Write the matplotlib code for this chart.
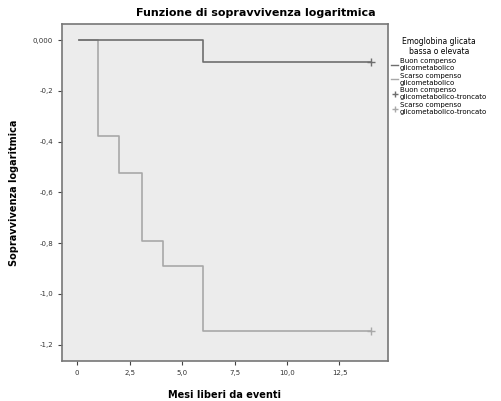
import matplotlib.pyplot as plt
from matplotlib.lines import Line2D

# step curves (log survival)
buon_t = [0.1, 6.0, 14.0]
buon_logs = [0.0, -0.087, -0.087]
scarso_t = [0.1, 1.0, 2.0, 3.1, 4.1, 6.0, 14.0]
scarso_logs = [0.0, -0.378, -0.525, -0.79, -0.89, -1.146, -1.146]

xticks = [0, 2.5, 5.0, 7.5, 10.0, 12.5]
xtick_labels = ['0', '2,5', '5,0', '7,5', '10,0', '12,5']
yticks = [0.0, -0.2, -0.4, -0.6, -0.8, -1.0, -1.2]
ytick_labels = ['0,000', '-0,2', '-0,4', '-0,6', '-0,8', '-1,0', '-1,2']

legend_labels = ['Buon compenso\nglicometabolico',
                 'Scarso compenso\nglicometabolico',
                 'Buon compenso\nglicometabolico-troncato',
                 'Scarso compenso\nglicometabolico-troncato']

dark = '#6e6e6e'
light = '#a8a8a8'

fig = plt.figure(figsize=(5.01, 4.01), dpi=100)
ax = fig.add_axes([0.124, 0.0998, 0.650, 0.840])
ax.set_facecolor('#ececec')

ax.step(scarso_t, scarso_logs, where='post', color=light, lw=1.2)
ax.step(buon_t, buon_logs, where='post', color=dark, lw=1.2)
ax.plot(buon_t[-1], buon_logs[-1], marker='+', color=dark, ms=6, mew=1.0)
ax.plot(scarso_t[-1], scarso_logs[-1], marker='+', color=light, ms=6, mew=1.0)

ax.set_xlim(-0.71, 14.8)
ax.set_ylim(-1.264, 0.063)
ax.set_xticks(xticks)
ax.set_xticklabels(xtick_labels)
ax.set_yticks(yticks)
ax.set_yticklabels(ytick_labels)
ax.tick_params(labelsize=5, length=3, color='#444444', labelcolor='#333333')
for s in ax.spines.values():
    s.set_color('#777777')
    s.set_linewidth(1.2)

ax.set_xlabel('Mesi liberi da eventi', fontsize=7, fontweight='bold', labelpad=10)
ax.set_ylabel('Sopravvivenza logaritmica', fontsize=7, fontweight='bold', labelpad=10)
fig.text(0.51, 0.967, 'Funzione di sopravvivenza logaritmica',
         ha='center', va='center', fontsize=8, fontweight='bold')

handles = [Line2D([], [], color=dark, lw=1),
           Line2D([], [], color=light, lw=1),
           Line2D([], [], color=dark, lw=0, marker='+', ms=5),
           Line2D([], [], color=light, lw=0, marker='+', ms=5)]
leg = fig.legend(handles, legend_labels, title='Emoglobina glicata\nbassa o elevata',
                 loc='upper left', bbox_to_anchor=(0.775, 0.915), frameon=False,
                 fontsize=5, title_fontsize=5.5, handlelength=1.0, handletextpad=0.3,
                 labelspacing=0.25, borderaxespad=0)
leg.get_title().set_multialignment('center')

fig.savefig('out.png', dpi=100)
